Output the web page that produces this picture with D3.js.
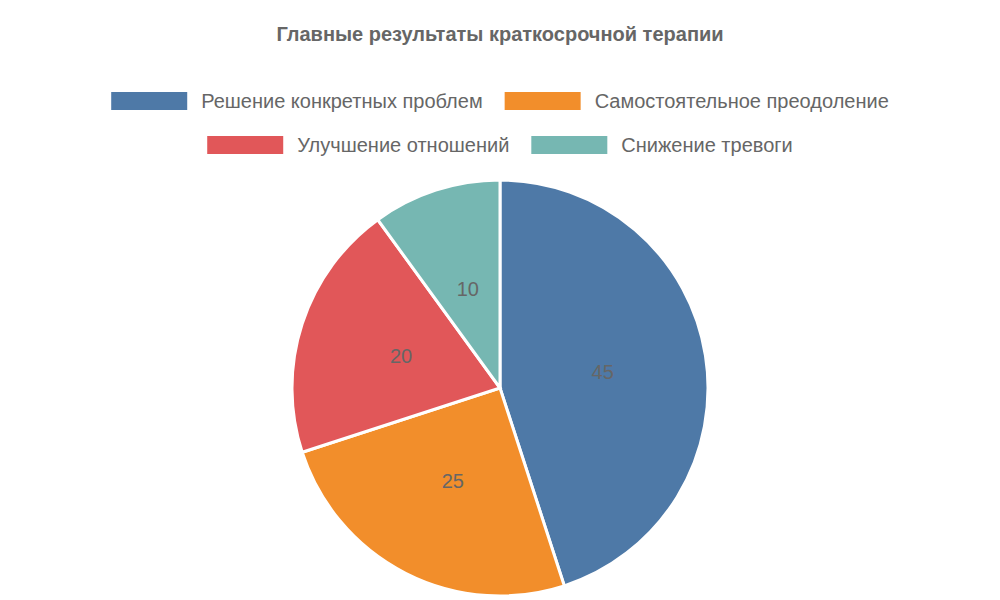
<!DOCTYPE html>
<html><head><meta charset="utf-8">
<script src="https://cdn.jsdelivr.net/npm/d3@7"></script>
<style>body{margin:0;background:#fff}</style></head>
<body><svg id="c" width="1000" height="600"></svg>
<script>
const categories = ["Решение конкретных проблем","Самостоятельное преодоление","Улучшение отношений","Снижение тревоги"];
const values = [45,25,20,10];
const colors = ["#4e79a7","#f28e2b","#e15759","#76b7b2"];
const title = "Главные результаты краткосрочной терапии";

const svg = d3.select("#c");
const font = "Liberation Sans, Arial, sans-serif";
svg.append("text").attr("x",500).attr("y",41).attr("text-anchor","middle")
  .attr("font-family",font).attr("font-size",20).attr("font-weight","bold").attr("fill","#666").text(title);

// legend
const rows = [[0,1],[2,3]];
const rowY = [101,145];
const boxW=76, boxH=18, gap=14, pad=22;
const meas = svg.append("text").attr("font-family",font).attr("font-size",20);
function tw(s){meas.text(s);return meas.node().getComputedTextLength();}
rows.forEach((r,ri)=>{
  const widths = r.map(i=>boxW+gap+tw(categories[i]));
  const total = d3.sum(widths)+pad*(r.length-1);
  let x = 500-total/2;
  r.forEach((i,k)=>{
    const g = svg.append("g");
    g.append("rect").attr("x",x).attr("y",rowY[ri]-boxH/2).attr("width",boxW).attr("height",boxH).attr("fill",colors[i]);
    g.append("text").attr("x",x+boxW+gap).attr("y",rowY[ri]+7).attr("font-family",font).attr("font-size",20).attr("fill","#666").text(categories[i]);
    x += widths[k]+pad;
  });
});
meas.remove();

const cx=500, cy=388, R=208;
const pie = d3.pie().sort(null).value(d=>d)(values);
const arc = d3.arc().innerRadius(0).outerRadius(R);
const g = svg.append("g").attr("transform",`translate(${cx},${cy})`);
g.selectAll("path").data(pie).join("path").attr("d",arc).attr("fill",(d,i)=>colors[i])
  .attr("stroke","#fff").attr("stroke-width",3);
const lab = d3.arc().innerRadius(R*0.5).outerRadius(R*0.5);
g.selectAll("text.l").data(pie).join("text").attr("class","l")
  .attr("transform",d=>`translate(${lab.centroid(d)})`).attr("text-anchor","middle").attr("dy","0.35em")
  .attr("font-family",font).attr("font-size",20).attr("fill","#666").text(d=>d.data);
</script></body></html>
